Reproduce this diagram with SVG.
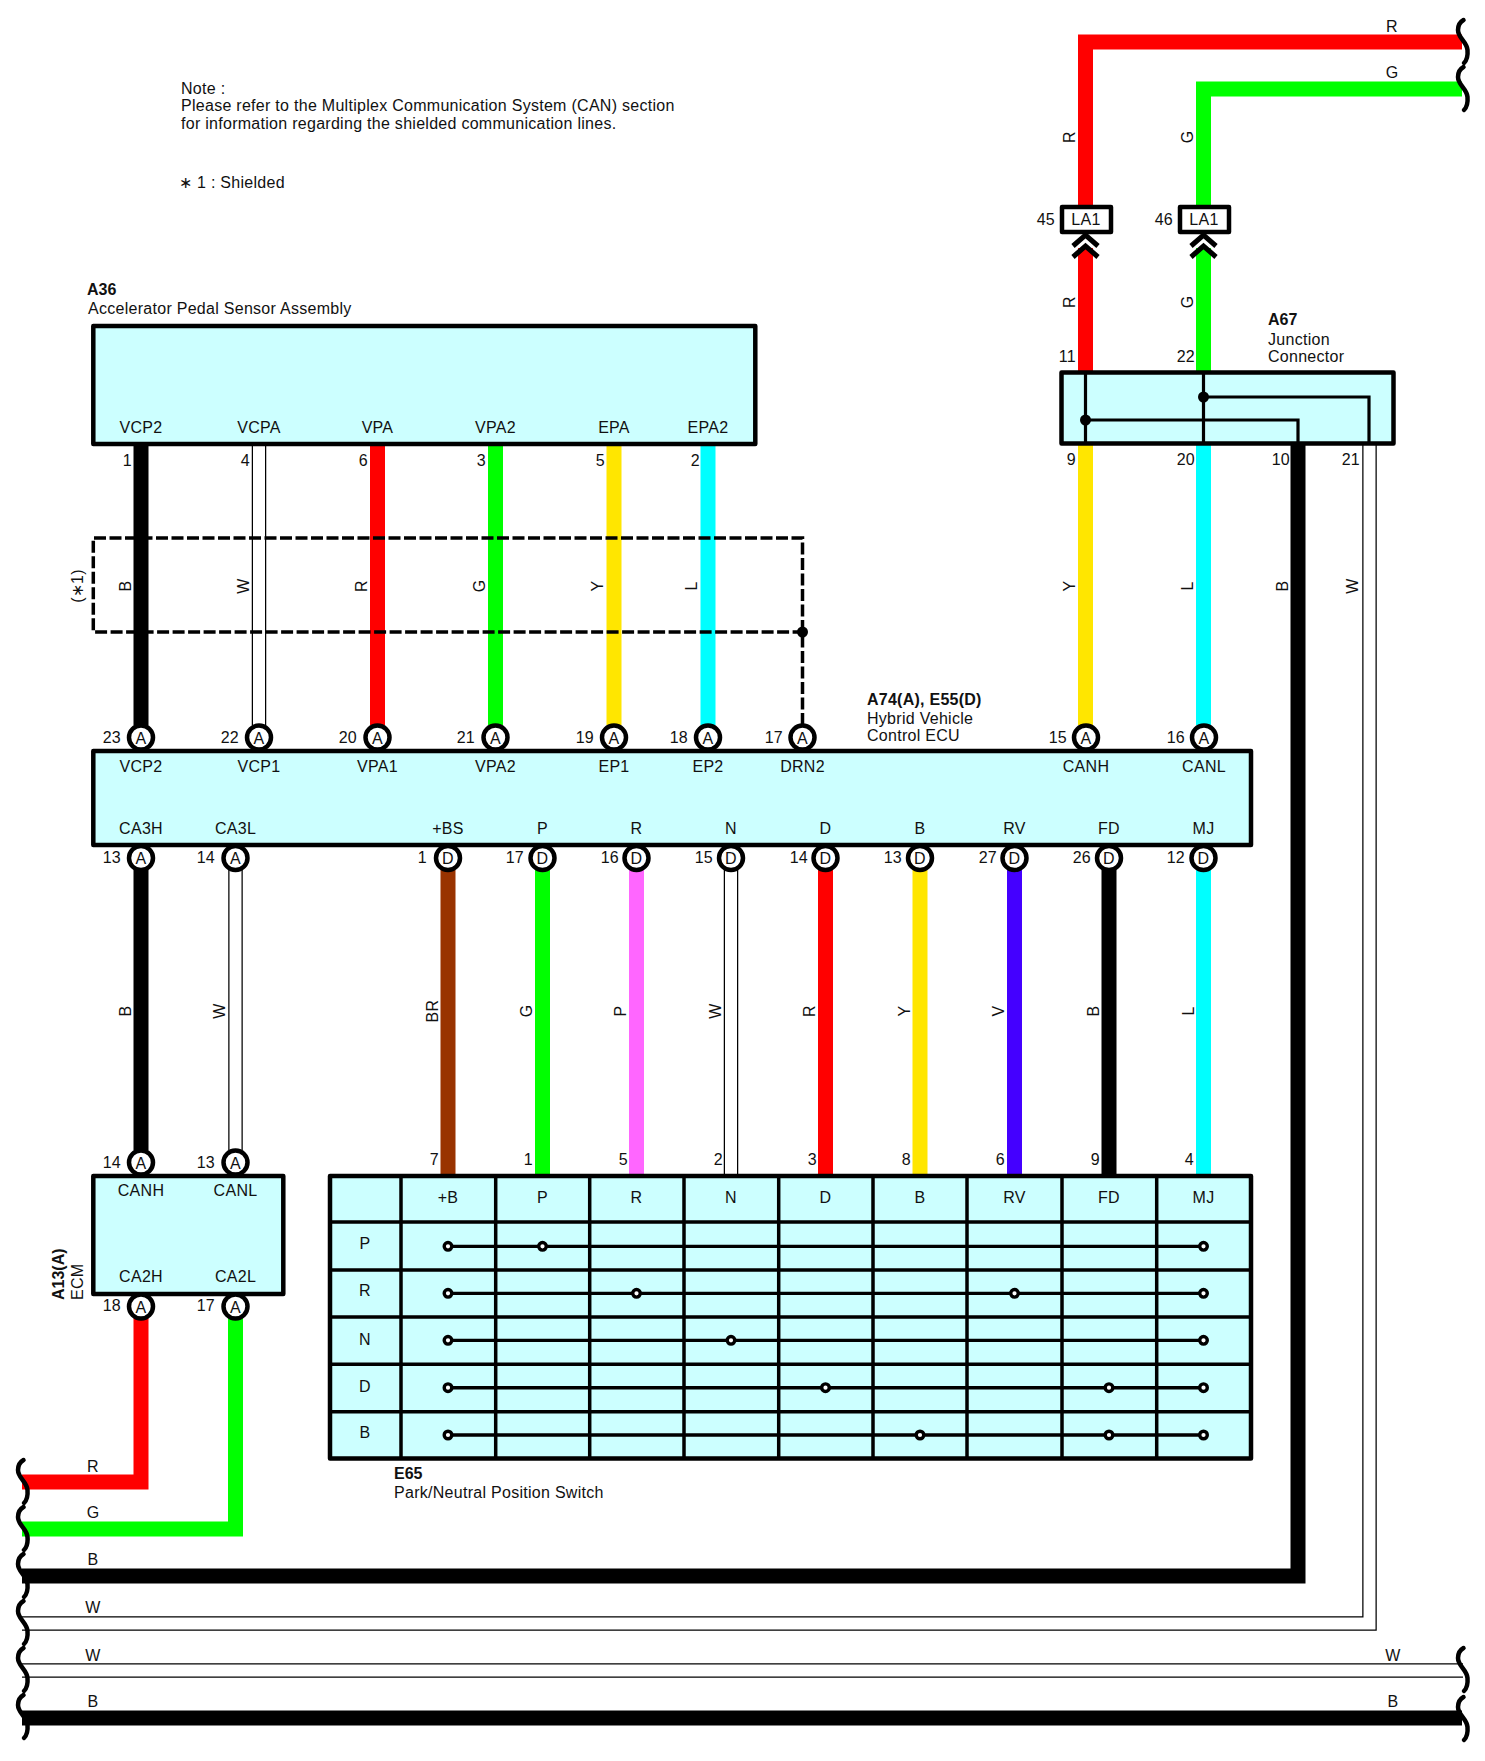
<svg xmlns="http://www.w3.org/2000/svg" width="1485" height="1761" viewBox="0 0 1485 1761">
<style>
text{font-family:"Liberation Sans",Arial,sans-serif;font-size:16px;fill:#111;letter-spacing:.28px}
.b{font-weight:bold;letter-spacing:0}
.m{text-anchor:middle}
.e{text-anchor:end}
.box{fill:#CCFFFF;stroke:#000;stroke-width:4.5;stroke-linejoin:round}
.w{fill:none;stroke-width:15;stroke-linejoin:miter}
.wo{fill:none;stroke:#000;stroke-width:14.5}
.wi{fill:none;stroke:#fff;stroke-width:12}
.pin{fill:#fff;stroke:#000;stroke-width:4.5}
.sq{fill:none;stroke:#000;stroke-width:4.5;stroke-linecap:round}
.sh{fill:none;stroke:#000;stroke-width:3.5;stroke-dasharray:12 3.5}
.int{fill:none;stroke:#000;stroke-width:3.2}
.grid{fill:none;stroke:#000;stroke-width:3.5}
.c{fill:#fff;stroke:#000;stroke-width:3.4}
.chev{fill:none;stroke:#000;stroke-width:5}
</style>
<defs>
<path id="squig" class="sq" d="M5.5,0C2,2 0,6 0,10C0,18 9,22 9.5,30C10,36 8,41 6,43"/>
</defs>

<g id="connectors">
<path class="w" stroke="#000" d="M141,444V725"/>
<path class="wo" d="M259,444V725"/><path class="wi" d="M259,440V730"/>
<path class="w" stroke="#F00" d="M377.5,444V725"/>
<path class="w" stroke="#0F0" d="M495.5,444V725"/>
<path class="w" stroke="#FFE600" d="M614,444V725"/>
<path class="w" stroke="#0FF" d="M708,444V725"/>
<path class="w" stroke="#F00" d="M1462,42H1085.5V207"/>
<path class="w" stroke="#F00" d="M1085.5,248V372"/>
<path class="w" stroke="#0F0" d="M1462,89H1203.5V207"/>
<path class="w" stroke="#0F0" d="M1203.5,248V372"/>
<path class="w" stroke="#FFE600" d="M1085.5,444V725"/>
<path class="w" stroke="#0FF" d="M1203.5,444V725"/>
<path class="w" stroke="#000" d="M22,1576H1298V444"/>
<path class="wo" d="M22,1623.5H1369.5V444"/><path class="wi" d="M18,1623.5H1369.5V440"/>
<path class="wo" d="M22,1670.5H1463"/><path class="wi" d="M18,1670.5H1467"/>
<path class="w" stroke="#000" d="M22,1718H1462"/>
<path class="w" stroke="#000" d="M141,870V1150"/>
<path class="wo" d="M235.5,870V1150"/><path class="wi" d="M235.5,866V1155"/>
<path class="w" stroke="#993300" d="M448,870V1176"/>
<path class="w" stroke="#0F0" d="M542.5,870V1176"/>
<path class="w" stroke="#FF66FF" d="M636.5,870V1176"/>
<path class="wo" d="M731,870V1178"/><path class="wi" d="M731,866V1180"/>
<path class="w" stroke="#F00" d="M825.5,870V1176"/>
<path class="w" stroke="#FFE600" d="M920,870V1176"/>
<path class="w" stroke="#4400FF" d="M1014.5,870V1176"/>
<path class="w" stroke="#000" d="M1109,870V1176"/>
<path class="w" stroke="#0FF" d="M1203.5,870V1176"/>
<path class="w" stroke="#F00" d="M141,1318V1482H22"/>
<path class="w" stroke="#0F0" d="M235.5,1318V1529H22"/>

<path class="sh" d="M802.5,725V538H93.3V632H802.5"/>
<circle cx="802.5" cy="632" r="5.5" fill="#000"/>

<g id="breaks">
<use href="#squig" x="18" y="1460"/><use href="#squig" x="18" y="1507"/><use href="#squig" x="18" y="1554"/>
<use href="#squig" x="18" y="1601"/><use href="#squig" x="18" y="1648"/><use href="#squig" x="18" y="1695"/>
<use href="#squig" x="1458" y="20"/><use href="#squig" x="1458" y="67"/>
<use href="#squig" x="1458" y="1648"/><use href="#squig" x="1458" y="1697"/>
</g>

<g id="wire-labels">
<text class="m" x="1392" y="32">R</text><text class="m" x="1392" y="78">G</text>
<text class="m" transform="translate(1075 137) rotate(-90)">R</text>
<text class="m" transform="translate(1193 137) rotate(-90)">G</text>
<text class="m" transform="translate(1075 302) rotate(-90)">R</text>
<text class="m" transform="translate(1193 302) rotate(-90)">G</text>
<text class="m" transform="translate(131 586) rotate(-90)">B</text>
<text class="m" transform="translate(249 586) rotate(-90)">W</text>
<text class="m" transform="translate(367 586) rotate(-90)">R</text>
<text class="m" transform="translate(485 586) rotate(-90)">G</text>
<text class="m" transform="translate(603 586) rotate(-90)">Y</text>
<text class="m" transform="translate(697 586) rotate(-90)">L</text>
<text class="m" transform="translate(1075 586) rotate(-90)">Y</text>
<text class="m" transform="translate(1193 586) rotate(-90)">L</text>
<text class="m" transform="translate(1288 586) rotate(-90)">B</text>
<text class="m" transform="translate(1358 586) rotate(-90)">W</text>
<text class="m" transform="translate(131 1011) rotate(-90)">B</text>
<text class="m" transform="translate(225 1011) rotate(-90)">W</text>
<text class="m" transform="translate(438 1011) rotate(-90)">BR</text>
<text class="m" transform="translate(532 1011) rotate(-90)">G</text>
<text class="m" transform="translate(626 1011) rotate(-90)">P</text>
<text class="m" transform="translate(721 1011) rotate(-90)">W</text>
<text class="m" transform="translate(815 1011) rotate(-90)">R</text>
<text class="m" transform="translate(910 1011) rotate(-90)">Y</text>
<text class="m" transform="translate(1004 1011) rotate(-90)">V</text>
<text class="m" transform="translate(1099 1011) rotate(-90)">B</text>
<text class="m" transform="translate(1194 1011) rotate(-90)">L</text>
<text class="m" x="93" y="1472">R</text>
<text class="m" x="93" y="1518">G</text>
<text class="m" x="93" y="1565">B</text>
<text class="m" x="93" y="1613">W</text>
<text class="m" x="93" y="1661">W</text>
<text class="m" x="93" y="1707">B</text>
<text class="m" x="1393" y="1661">W</text>
<text class="m" x="1393" y="1707">B</text>
<text class="m" transform="translate(83 586) rotate(-90)">(∗1)</text>
</g>
</g>

<g id="note">
<text x="181" y="94">Note :</text>
<text x="181" y="111">Please refer to the Multiplex Communication System (CAN) section</text>
<text x="181" y="129">for information regarding the shielded communication lines.</text>
<text x="179" y="188">∗ 1 : Shielded</text>
</g>

<g id="A36">
<text class="b" x="87" y="295">A36</text>
<text x="88" y="314">Accelerator Pedal Sensor Assembly</text>
<rect class="box" x="93.300" y="326" width="662" height="118"/>
<text class="m" x="141" y="433">VCP2</text><text class="m" x="259" y="433">VCPA</text>
<text class="m" x="377.500" y="433">VPA</text><text class="m" x="495.500" y="433">VPA2</text>
<text class="m" x="614" y="433">EPA</text><text class="m" x="708" y="433">EPA2</text>
<text class="e" x="132" y="466">1</text><text class="e" x="250" y="466">4</text>
<text class="e" x="368" y="466">6</text><text class="e" x="486" y="466">3</text>
<text class="e" x="605" y="466">5</text><text class="e" x="700" y="466">2</text>
</g>

<g id="LA1-45">
<rect x="1062" y="207" width="49" height="25" fill="#fff" stroke="#000" stroke-width="4.500" stroke-linejoin="round"/>
<text class="m" x="1086" y="225">LA1</text>
<text class="e" x="1055" y="225">45</text>
<path class="chev" d="M1073,246L1085.500,235L1098,246M1073,257L1085.500,246L1098,257"/>
</g>
<g id="LA1-46">
<rect x="1180" y="207" width="49" height="25" fill="#fff" stroke="#000" stroke-width="4.500" stroke-linejoin="round"/>
<text class="m" x="1204" y="225">LA1</text>
<text class="e" x="1173" y="225">46</text>
<path class="chev" d="M1191,246L1203.500,235L1216,246M1191,257L1203.500,246L1216,257"/>
</g>

<g id="A67">
<text class="b" x="1268" y="325">A67</text>
<text x="1268" y="345">Junction</text>
<text x="1268" y="362">Connector</text>
<rect class="box" x="1061.500" y="372.500" width="332" height="71"/>
<path class="int" d="M1085.500,372V444M1203.500,372V444M1085.500,420H1298V444M1203.500,397H1369V444"/>
<circle cx="1085.500" cy="420" r="5.500"/><circle cx="1203.500" cy="397" r="5.500"/>
<text class="e" x="1076" y="362">11</text><text class="e" x="1195" y="362">22</text>
<text class="e" x="1076" y="465">9</text><text class="e" x="1195" y="465">20</text>
<text class="e" x="1290" y="465">10</text><text class="e" x="1360" y="465">21</text>
</g>

<g id="A74-E55">
<text class="b" x="867" y="705" style="letter-spacing:.25px">A74(A), E55(D)</text>
<text x="867" y="724">Hybrid Vehicle</text>
<text x="867" y="741">Control ECU</text>
<rect class="box" x="93.300" y="751" width="1157.700" height="94"/>
<g>
<circle class="pin" cx="141" cy="737.500" r="12"/><circle class="pin" cx="259" cy="737.500" r="12"/>
<circle class="pin" cx="377.500" cy="737.500" r="12"/><circle class="pin" cx="495.500" cy="737.500" r="12"/>
<circle class="pin" cx="614" cy="737.500" r="12"/><circle class="pin" cx="708" cy="737.500" r="12"/>
<circle class="pin" cx="802.500" cy="737.500" r="12"/><circle class="pin" cx="1086" cy="737.500" r="12"/>
<circle class="pin" cx="1204" cy="737.500" r="12"/>
<circle class="pin" cx="141" cy="858" r="12"/><circle class="pin" cx="235.500" cy="858" r="12"/>
<circle class="pin" cx="448" cy="858" r="12"/><circle class="pin" cx="542.500" cy="858" r="12"/>
<circle class="pin" cx="636.500" cy="858" r="12"/><circle class="pin" cx="731" cy="858" r="12"/>
<circle class="pin" cx="825.500" cy="858" r="12"/><circle class="pin" cx="920" cy="858" r="12"/>
<circle class="pin" cx="1014.500" cy="858" r="12"/><circle class="pin" cx="1109" cy="858" r="12"/>
<circle class="pin" cx="1203.500" cy="858" r="12"/>
</g>
<g>
<text class="m" x="141" y="743.500">A</text><text class="m" x="259" y="743.500">A</text>
<text class="m" x="377.500" y="743.500">A</text><text class="m" x="495.500" y="743.500">A</text>
<text class="m" x="614" y="743.500">A</text><text class="m" x="708" y="743.500">A</text>
<text class="m" x="802.500" y="743.500">A</text><text class="m" x="1086" y="743.500">A</text>
<text class="m" x="1204" y="743.500">A</text>
<text class="m" x="141" y="864">A</text><text class="m" x="235.500" y="864">A</text>
<text class="m" x="448" y="864">D</text><text class="m" x="542.500" y="864">D</text>
<text class="m" x="636.500" y="864">D</text><text class="m" x="731" y="864">D</text>
<text class="m" x="825.500" y="864">D</text><text class="m" x="920" y="864">D</text>
<text class="m" x="1014.500" y="864">D</text><text class="m" x="1109" y="864">D</text>
<text class="m" x="1203.500" y="864">D</text>
</g>
<text class="e" x="121" y="743">23</text><text class="e" x="239" y="743">22</text>
<text class="e" x="357" y="743">20</text><text class="e" x="475" y="743">21</text>
<text class="e" x="594" y="743">19</text><text class="e" x="688" y="743">18</text>
<text class="e" x="783" y="743">17</text><text class="e" x="1067" y="743">15</text>
<text class="e" x="1185" y="743">16</text>
<text class="m" x="141" y="772">VCP2</text><text class="m" x="259" y="772">VCP1</text>
<text class="m" x="377.500" y="772">VPA1</text><text class="m" x="495.500" y="772">VPA2</text>
<text class="m" x="614" y="772">EP1</text><text class="m" x="708" y="772">EP2</text>
<text class="m" x="802.500" y="772">DRN2</text><text class="m" x="1086" y="772">CANH</text>
<text class="m" x="1204" y="772">CANL</text>
<text class="m" x="141" y="834">CA3H</text><text class="m" x="235.500" y="834">CA3L</text>
<text class="m" x="448" y="834">+BS</text><text class="m" x="542.500" y="834">P</text>
<text class="m" x="636.500" y="834">R</text><text class="m" x="731" y="834">N</text>
<text class="m" x="825.500" y="834">D</text><text class="m" x="920" y="834">B</text>
<text class="m" x="1014.500" y="834">RV</text><text class="m" x="1109" y="834">FD</text>
<text class="m" x="1203.500" y="834">MJ</text>
<text class="e" x="121" y="863">13</text><text class="e" x="215" y="863">14</text>
<text class="e" x="427" y="863">1</text><text class="e" x="524" y="863">17</text>
<text class="e" x="619" y="863">16</text><text class="e" x="713" y="863">15</text>
<text class="e" x="808" y="863">14</text><text class="e" x="902" y="863">13</text>
<text class="e" x="997" y="863">27</text><text class="e" x="1091" y="863">26</text>
<text class="e" x="1185" y="863">12</text>
</g>

<g id="A13">
<text class="b" transform="translate(64 1300) rotate(-90)">A13(A)</text>
<text transform="translate(83 1300) rotate(-90)">ECM</text>
<rect class="box" x="93.300" y="1176" width="190" height="118"/>
<circle class="pin" cx="141" cy="1162.500" r="12"/><circle class="pin" cx="235.500" cy="1162.500" r="12"/>
<circle class="pin" cx="141" cy="1306.500" r="12"/><circle class="pin" cx="235.500" cy="1306.500" r="12"/>
<text class="m" x="141" y="1168.500">A</text><text class="m" x="235.500" y="1168.500">A</text>
<text class="m" x="141" y="1312.500">A</text><text class="m" x="235.500" y="1312.500">A</text>
<text class="e" x="121" y="1168">14</text><text class="e" x="215" y="1168">13</text>
<text class="e" x="121" y="1311">18</text><text class="e" x="215" y="1311">17</text>
<text class="m" x="141" y="1196">CANH</text><text class="m" x="235.500" y="1196">CANL</text>
<text class="m" x="141" y="1282">CA2H</text><text class="m" x="235.500" y="1282">CA2L</text>
</g>

<g id="E65">
<rect class="box" x="330" y="1176" width="921" height="282.500"/>
<path class="grid" d="M401,1176V1458M495.700,1176V1458M589.700,1176V1458M684,1176V1458M778.700,1176V1458M873,1176V1458M967,1176V1458M1062,1176V1458M1156.700,1176V1458"/>
<path class="grid" d="M330,1222H1251M330,1270H1251M330,1317H1251M330,1364.300H1251M330,1411.700H1251"/>
<path class="int" d="M448,1246.300H1203.500M448,1293.300H1203.500M448,1340.300H1203.500"/>
<path class="grid" d="M448,1387.700H1203.500M448,1435H1203.500"/>
<g>
<circle class="c" cx="448" cy="1246.300" r="3.800"/><circle class="c" cx="542.500" cy="1246.300" r="3.800"/><circle class="c" cx="1203.500" cy="1246.300" r="3.800"/>
<circle class="c" cx="448" cy="1293.300" r="3.800"/><circle class="c" cx="636.500" cy="1293.300" r="3.800"/><circle class="c" cx="1014.500" cy="1293.300" r="3.800"/><circle class="c" cx="1203.500" cy="1293.300" r="3.800"/>
<circle class="c" cx="448" cy="1340.300" r="3.800"/><circle class="c" cx="731" cy="1340.300" r="3.800"/><circle class="c" cx="1203.500" cy="1340.300" r="3.800"/>
<circle class="c" cx="448" cy="1387.700" r="3.800"/><circle class="c" cx="825.500" cy="1387.700" r="3.800"/><circle class="c" cx="1109" cy="1387.700" r="3.800"/><circle class="c" cx="1203.500" cy="1387.700" r="3.800"/>
<circle class="c" cx="448" cy="1435" r="3.800"/><circle class="c" cx="920" cy="1435" r="3.800"/><circle class="c" cx="1109" cy="1435" r="3.800"/><circle class="c" cx="1203.500" cy="1435" r="3.800"/>
</g>
<text class="m" x="448" y="1203">+B</text><text class="m" x="542.500" y="1203">P</text>
<text class="m" x="636.500" y="1203">R</text><text class="m" x="731" y="1203">N</text>
<text class="m" x="825.500" y="1203">D</text><text class="m" x="920" y="1203">B</text>
<text class="m" x="1014.500" y="1203">RV</text><text class="m" x="1109" y="1203">FD</text>
<text class="m" x="1203.500" y="1203">MJ</text>
<text class="m" x="365" y="1249">P</text><text class="m" x="365" y="1296">R</text>
<text class="m" x="365" y="1345">N</text><text class="m" x="365" y="1392">D</text>
<text class="m" x="365" y="1438">B</text>
<text class="e" x="439" y="1165">7</text><text class="e" x="533" y="1165">1</text>
<text class="e" x="628" y="1165">5</text><text class="e" x="723" y="1165">2</text>
<text class="e" x="817" y="1165">3</text><text class="e" x="911" y="1165">8</text>
<text class="e" x="1005" y="1165">6</text><text class="e" x="1100" y="1165">9</text>
<text class="e" x="1194" y="1165">4</text>
<text class="b" x="394" y="1479">E65</text>
<text x="394" y="1498">Park/Neutral Position Switch</text>
</g>
</svg>
